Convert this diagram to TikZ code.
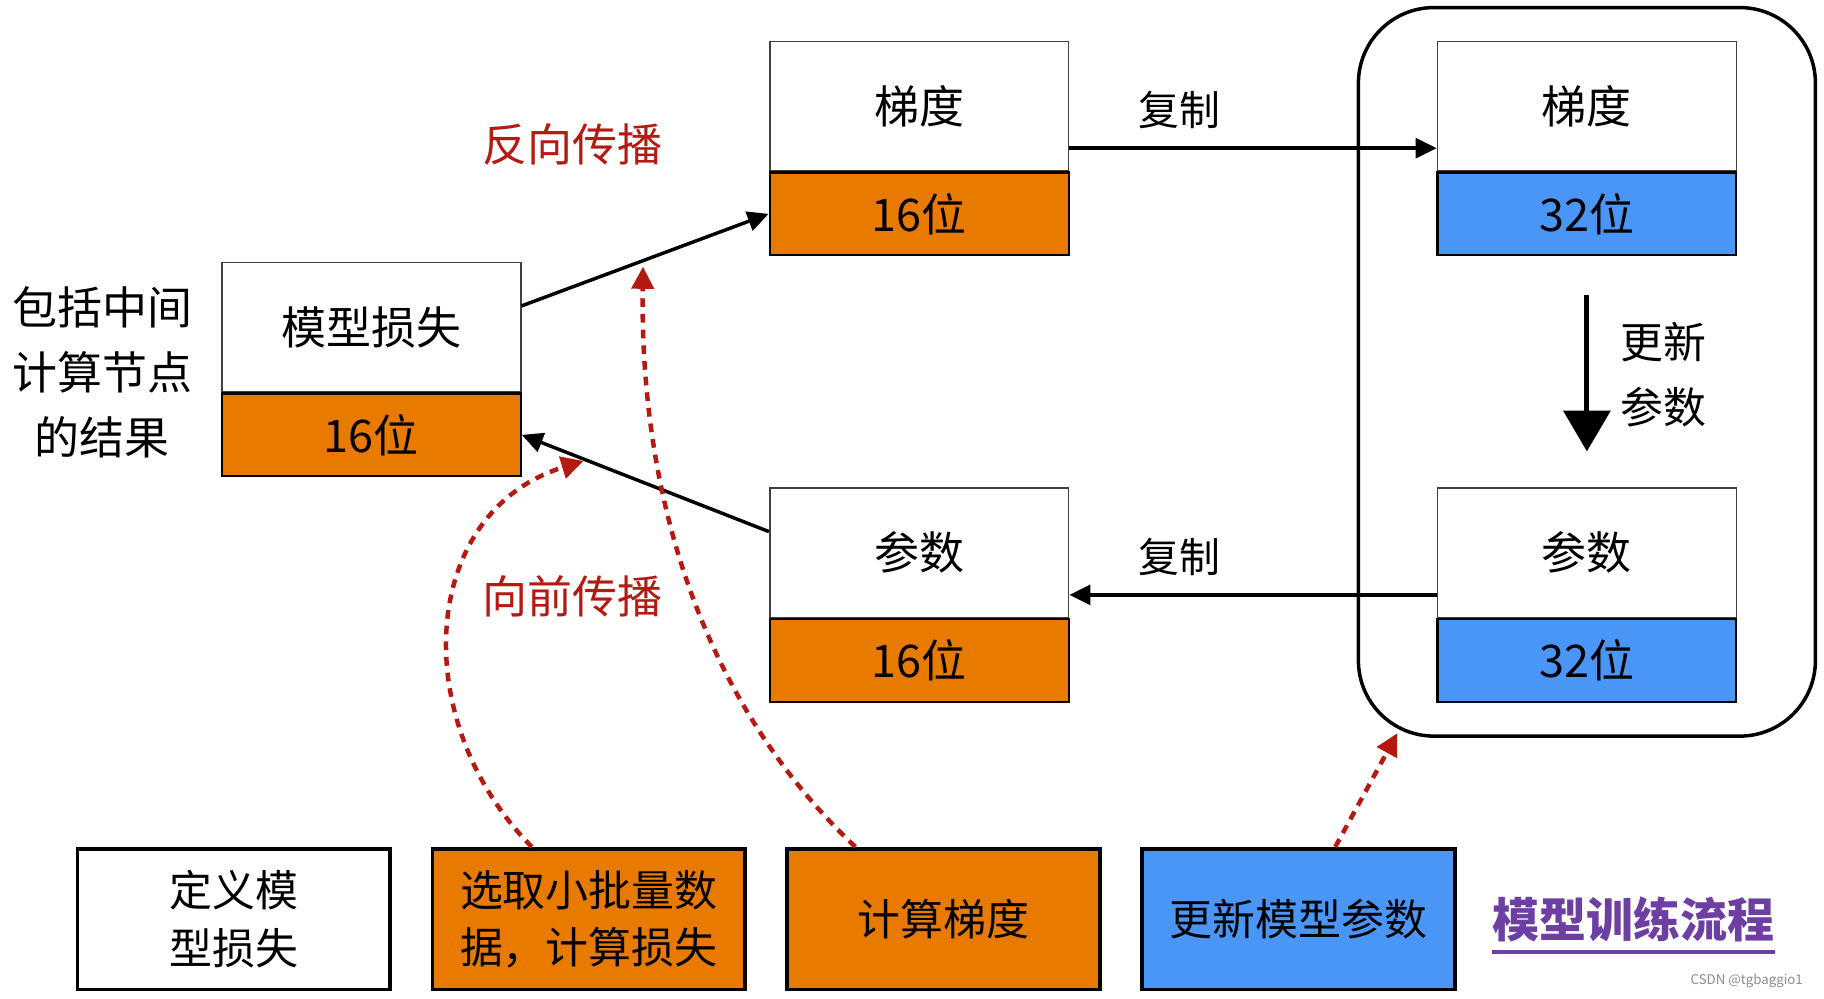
\documentclass[tikz,border=0pt]{standalone}
\usepackage{fontspec}
\setmainfont{Noto Sans CJK SC}
\usepackage{tikz}
\usetikzlibrary{arrows.meta, positioning, fit}
\definecolor{bitorange}{HTML}{E97A00}
\definecolor{bitblue}{HTML}{4A96F6}
\definecolor{flowred}{HTML}{B51A12}
\definecolor{titlepurple}{HTML}{6E3FA3}

\begin{document}
\begin{tikzpicture}[x=0.02cm, y=-0.02cm,
  tensor/.style={draw=black!75, line width=0.8pt, fill=white, anchor=north west, inner sep=0pt,
                 minimum width=5.14cm, minimum height=2.22cm, font=\fontsize{22}{26}\selectfont},
  bits/.style={draw, line width=1.1pt, inner sep=0pt, minimum width=5.14cm, minimum height=1.42cm,
               font=\fontsize{22}{26}\selectfont},
  stepbox/.style={draw, line width=1.8pt, inner sep=0pt, align=center, minimum width=5.38cm,
                  minimum height=2.42cm, font=\fontsize{21}{28}\selectfont},
  lbl/.style={font=\fontsize{20}{24}\selectfont},
  redlbl/.style={font=\fontsize{22}{26}\selectfont, text=flowred},
  arr/.style={-{Triangle[length=3.6mm, width=3.4mm]}, line width=1.7pt},
  dasharr/.style={-{Triangle[length=3.8mm, width=3.8mm]}, flowred, line width=2.2pt,
                  dash pattern=on 1.5mm off 1.2mm},
  group/.style={draw, line width=1.7pt, rounded corners=1.3cm}]
\useasboundingbox (0,0) rectangle (1568,858);
\node[tensor] (loss) at (190,225) {模型损失};
\node[bits, fill=bitorange, below=0pt of loss] (loss16) {16位};
\node[tensor] (grad) at (661,35) {梯度};
\node[bits, fill=bitorange, below=0pt of grad] (grad16) {16位};
\node[tensor] (param) at (661,419) {参数};
\node[bits, fill=bitorange, below=0pt of param] (param16) {16位};
\node[tensor] (gradf) at (1235,35) {梯度};
\node[bits, fill=bitblue, below=0pt of gradf] (grad32) {32位};
\node[tensor] (paramf) at (1235,419) {参数};
\node[bits, fill=bitblue, below=0pt of paramf] (param32) {32位};
\node[group, fit=(gradf)(param32), inner xsep=1.34cm, inner ysep=0.57cm] (master) {};
\node[align=center, font=\fontsize{22}{31.9}\selectfont] (note) at (88,320) {包括中间\\计算节点\\的结果};
\node[redlbl] (back) at (492,124) {反向传播};
\node[redlbl] (fwd) at (492,513) {向前传播};
\node[align=center, font=\fontsize{21}{32}\selectfont] (upd) at (1430,322) {更新\\参数};
\node[stepbox, anchor=north west] (define) at (65,728) {定义模\\型损失};
\node[stepbox, fill=bitorange, right=0.66cm of define] (batch) {选取小批量数\\据，计算损失};
\node[stepbox, fill=bitorange, right=0.66cm of batch] (calc) {计算梯度};
\node[stepbox, fill=bitblue, right=0.66cm of calc] (update) {更新模型参数};
\node[font=\fontsize{23}{26}\selectfont\bfseries, text=titlepurple, minimum height=1.12cm,
      inner xsep=0pt] (title) at (1404,790) {模型训练流程};
\node[font=\fontsize{6.5}{8}\selectfont, text=black!45, anchor=east] (mark) at (1556,843) {CSDN @tgbaggio1};
\draw[arr] ([yshift=-0.76cm]loss.north east) -- (grad16.west);
\draw[arr] ([yshift=-0.76cm]param.north west) -- (loss16.east);
\draw[arr] ([yshift=0.4cm]grad.south east) -- node[lbl, pos=0.3, yshift=0.66cm] (copyup) {复制}
  ([yshift=0.4cm]gradf.south west);
\draw[arr] ([yshift=0.4cm]paramf.south west) -- node[lbl, pos=0.7, yshift=0.66cm] (copydown) {复制}
  ([yshift=0.4cm]param.south east);
\draw[-{Triangle[length=7mm, width=8mm]}, line width=2.4pt] ([yshift=-0.66cm]grad32.south)
  -- ([yshift=0.62cm]paramf.north);
\draw[titlepurple, line width=1.7pt] (title.south west) -- (title.south east);
\draw[dasharr] ([xshift=-0.98cm]batch.north) .. controls (350,620) and (360,440)
  .. ([xshift=1.06cm, yshift=0.28cm]loss16.south east);
\draw[dasharr] ([xshift=-1.52cm]calc.north) .. controls (600,600) and (550,420)
  .. ([xshift=-2.16cm, yshift=-0.18cm]grad16.south west);
\draw[dasharr] ([xshift=0.63cm]update.north) -- ([xshift=0.7cm, yshift=0.08cm]master.south west);
\end{tikzpicture}
\end{document}
